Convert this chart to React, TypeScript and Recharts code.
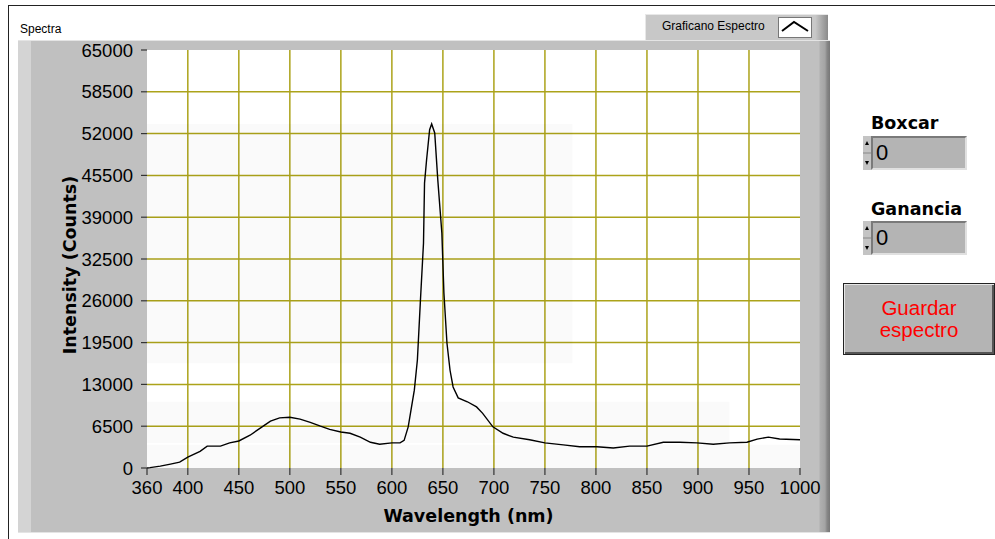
import { LineChart, Line, XAxis, YAxis, CartesianGrid, ReferenceArea } from 'recharts'

// wavelength (nm) and intensity (counts)
const wavelengths = [
    360, 363, 373, 383, 392, 400, 412, 419, 432, 441, 450, 461, 471, 481, 490, 500,
    510, 520, 530, 539, 550, 559, 569, 579, 588, 600, 608, 612, 616, 622, 625, 628,
    631, 632, 634, 637, 639, 642, 645, 649, 651, 654, 657, 660, 665, 674, 683, 689,
    699, 709, 719, 735, 750, 768, 784, 801, 817, 833, 850, 866, 882, 899, 915, 931,
    948, 958, 969, 980, 1000,
]
const intensities = [
    0, 50, 300, 600, 900, 1700, 2600, 3400, 3400, 3900, 4200, 5100, 6200, 7300, 7800, 7900,
    7600, 7100, 6500, 6000, 5600, 5400, 4800, 4000, 3700, 3900, 3900, 4300, 6400, 12100, 16800, 26100,
    35000, 44300, 47900, 52600, 53500, 52100, 44800, 36500, 27200, 19400, 15200, 12600, 10900, 10300, 9500, 8500,
    6400, 5400, 4800, 4400, 3900, 3600, 3300, 3300, 3100, 3400, 3400, 4000, 4000, 3900, 3700, 3900,
    4000, 4500, 4800, 4500, 4400,
]

const xTicks = [360, 400, 450, 500, 550, 600, 650, 700, 750, 800, 850, 900, 950, 1000]
const yTicks = [0, 6500, 13000, 19500, 26000, 32500, 39000, 45500, 52000, 58500, 65000]

const data = wavelengths.map((w, i) => ({ nm: w, counts: intensities[i] }))

const font = '"Liberation Sans", Arial, sans-serif'
const boldFont = '"DejaVu Sans", Verdana, sans-serif'

function YLabel(props: any) {
    const { viewBox } = props
    const cx = 52
    const cy = viewBox.y + viewBox.height / 2 + 6
    return (
        <text x={cx} y={cy} transform={`rotate(-90 ${cx} ${cy})`} textAnchor="middle"
            dominantBaseline="central" fontFamily={boldFont} fontWeight="bold" fontSize={17.5} fill="#000">
            Intensity (Counts)
        </text>
    )
}

function XLabel(props: any) {
    const { viewBox } = props
    const cx = viewBox.x + viewBox.width / 2 - 5
    return (
        <text x={cx} y={viewBox.y + 48} textAnchor="middle" dominantBaseline="central"
            fontFamily={boldFont} fontWeight="bold" fontSize={17.5} fill="#000">
            Wavelength (nm)
        </text>
    )
}

function Spinner({ top }: { top: number }) {
    return (
        <>
            <div style={{ position: 'absolute', left: 863, top, width: 8, height: 34, background: '#c4c4c4', borderRight: '1px solid #888' }}>
                <svg width={8} height={34} style={{ position: 'absolute', left: 0, top: 0 }}>
                    <polygon points="2,9 6,9 4,5" fill="#000" />
                    <polygon points="2,25 6,25 4,29" fill="#000" />
                    <line x1={0} y1={17} x2={8} y2={17} stroke="#888" />
                </svg>
            </div>
            <div style={{
                position: 'absolute', left: 871, top, width: 96, height: 34, boxSizing: 'border-box',
                background: '#b4b4b4', borderTop: '2px solid #7a7a7a', borderLeft: '2px solid #7a7a7a',
                borderBottom: '2px solid #e0e0e0', borderRight: '2px solid #e0e0e0',
                fontFamily: font, fontSize: 22, lineHeight: '30px', paddingLeft: 3, color: '#000',
            }}>0</div>
        </>
    )
}

const labelStyle = {
    position: 'absolute' as const, left: 871, fontFamily: boldFont, fontWeight: 'bold' as const,
    fontSize: 17.5, lineHeight: '20px', color: '#000',
}

export default function App() {
    return (
        <div style={{ position: 'absolute', left: 0, top: 0, width: 995, height: 539, background: '#fff', overflow: 'hidden' }}>
            {/* outer frame */}
            <div style={{ position: 'absolute', left: 8, top: 5, width: 990, height: 540, borderTop: '1.5px solid #222', borderLeft: '1.5px solid #222' }} />

            <div style={{ position: 'absolute', left: 20, top: 22, fontFamily: font, fontSize: 12, color: '#000' }}>Spectra</div>

            {/* legend */}
            <div style={{
                position: 'absolute', left: 645, top: 14, width: 183, height: 26, boxSizing: 'border-box',
                background: 'linear-gradient(to right, #c8c8c8 0%, #c8c8c8 93%, #8a8a8a 100%)',
                borderTop: '1px solid #e8e8e8', borderLeft: '1px solid #e8e8e8',
            }}>
                <div style={{ position: 'absolute', left: 16, top: 4, fontFamily: font, fontSize: 12, color: '#000' }}>Graficano Espectro</div>
                <svg width={34} height={21} style={{ position: 'absolute', left: 132, top: 2 }}>
                    <rect x={0.5} y={0.5} width={33} height={20} fill="#fff" stroke="#777" />
                    <polyline points="4,14 16,5 30,14" fill="none" stroke="#000" strokeWidth={2} />
                </svg>
            </div>

            {/* graph panel */}
            <div style={{
                position: 'absolute', left: 18, top: 40, width: 812, height: 493,
                background: 'linear-gradient(to right, #d4d4d4 0px, #d4d4d4 13px, #c0c0c0 13px, #c0c0c0 801px, #b0b0b0 802px, #a4a4a4 807px, #888 809px, #777 812px)',
                borderTop: '1px solid #e4e4e4', borderBottom: '1px solid #e4e4e4', boxSizing: 'border-box',
            }} />
            <div style={{ position: 'absolute', left: 147, top: 50, width: 653, height: 418, background: '#fff' }} />

            <div style={{ position: 'absolute', left: 18, top: 40 }}>
                <LineChart width={812} height={493} data={data} margin={{ top: 10, right: 30, bottom: 0, left: 0 }}>
                    <CartesianGrid
                        stroke="#aca31a"
                        strokeWidth={1.5}
                        horizontalValues={yTicks.slice(1, -1)}
                        verticalValues={xTicks.slice(1, -1)}
                    />
                    <ReferenceArea x1={360} x2={777} y1={16300} y2={53500} fill="#000" fillOpacity={0.02} stroke="none" />
                    <ReferenceArea x1={360} x2={931} y1={3900} y2={10300} fill="#000" fillOpacity={0.018} stroke="none" />
                    <ReferenceArea x1={360} x2={1000} y1={0} y2={3600} fill="#000" fillOpacity={0.018} stroke="none" />
                    <XAxis
                        dataKey="nm"
                        type="number"
                        domain={[360, 1000]}
                        ticks={xTicks}
                        interval={0}
                        height={65}
                        axisLine={false}
                        tickSize={7}
                        tickMargin={6}
                        tickLine={{ stroke: '#333', strokeWidth: 1.2 }}
                        tick={{ fill: '#000', fontSize: 18.5, fontFamily: font }}
                        label={<XLabel />}
                    />
                    <YAxis
                        type="number"
                        domain={[0, 65000]}
                        ticks={yTicks}
                        interval={0}
                        width={129}
                        axisLine={false}
                        tickSize={6}
                        tickMargin={8}
                        tickLine={{ stroke: '#333', strokeWidth: 1.2 }}
                        tick={{ fill: '#000', fontSize: 18.5, fontFamily: font }}
                        label={<YLabel />}
                    />
                    <Line
                        type="linear"
                        dataKey="counts"
                        stroke="#000"
                        strokeWidth={1.4}
                        dot={false}
                        isAnimationActive={false}
                    />
                </LineChart>
            </div>

            {/* controls */}
            <div style={{ ...labelStyle, top: 113 }}>Boxcar</div>
            <Spinner top={136} />
            <div style={{ ...labelStyle, top: 199 }}>Ganancia</div>
            <Spinner top={221} />

            <div style={{
                position: 'absolute', left: 843, top: 283, width: 152, height: 72, boxSizing: 'border-box',
                background: '#b4b4b4', border: '1px solid #222',
                boxShadow: 'inset 1px 1px 0 #e6e6e6, inset -2px -2px 0 #555',
                display: 'flex', flexDirection: 'column', alignItems: 'center', justifyContent: 'center',
                fontFamily: font, fontSize: 20.5, lineHeight: '22px', color: '#ff0000',
            }}>
                <div>Guardar</div>
                <div>espectro</div>
            </div>
        </div>
    )
}
